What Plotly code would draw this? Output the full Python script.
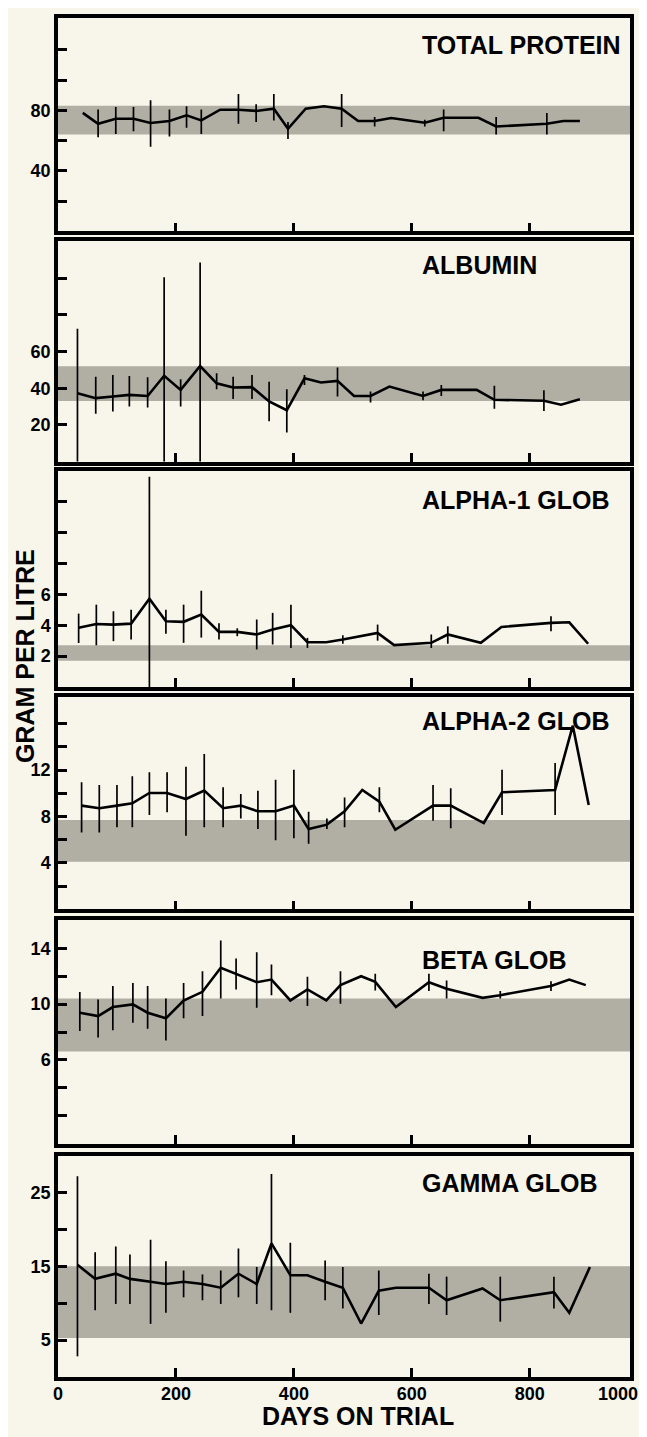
import plotly.graph_objects as go

# ---------------- data ----------------
PANEL_TITLES = ["TOTAL PROTEIN", "ALBUMIN", "ALPHA-1 GLOB", "ALPHA-2 GLOB", "BETA GLOB", "GAMMA GLOB"]

TP_DAYS = [42, 68, 98, 128, 157, 189, 218, 243, 275, 306, 336, 366, 390, 420, 451, 481, 509, 537, 565, 622, 654, 713, 743, 829, 857, 885]
TP_VAL = [78.3, 71.1, 74.4, 74.4, 71.6, 72.9, 76.7, 73.3, 80.4, 80.4, 79.6, 81.1, 67.8, 81.1, 82.7, 81.1, 72.9, 72.9, 74.9, 71.8, 75.1, 75.1, 69.3, 71.1, 72.9, 72.9]
TP_HI = [None, 80.5, 82.2, 82.2, 86.6, 80.5, 82.7, 80.5, None, 90.7, 84.0, 90.7, 72.2, None, None, 90.7, None, 75.5, None, 73.8, 80.5, None, 75.5, 78.2, None, None]
TP_LO = [None, 62.2, 64.4, 66.2, 56.0, 62.7, 68.4, 64.4, None, 71.1, 72.2, 73.3, 61.1, None, None, 69.0, None, 69.3, None, 69.3, 66.2, None, 64.0, 64.0, None, None]

ALB_DAYS = [33, 64, 93, 121, 152, 180, 208, 241, 269, 297, 329, 358, 388, 418, 446, 474, 502, 530, 562, 619, 650, 710, 740, 824, 853, 885]
ALB_VAL = [37.3, 34.6, 35.5, 36.4, 35.8, 46.8, 39.1, 52.1, 42.7, 40.4, 40.6, 32.8, 28.0, 45.4, 43.1, 44.0, 35.8, 35.8, 40.9, 35.8, 39.1, 39.1, 33.7, 33.2, 31.0, 34.0]
ALB_HI = [72.4, 46.3, 47.2, 46.7, 46.0, 100.4, 44.9, 108.5, 48.1, 46.3, 47.2, 43.6, 39.5, 47.2, None, 51.3, None, 38.2, None, 38.2, 41.8, None, 41.4, 38.9, None, None]
ALB_LO = [0.0, 26.1, 27.4, 30.1, 29.5, 0.0, 30.1, 0.0, 39.5, 34.1, 34.1, 22.0, 15.9, 41.8, None, 35.5, None, 32.3, None, 33.4, 35.8, None, 28.8, 27.6, None, None]

A1_DAYS = [35, 65, 94, 124, 155, 183, 213, 243, 273, 304, 337, 364, 395, 423, 455, 483, 542, 570, 633, 661, 717, 752, 836, 867, 899]
A1_VAL = [3.83, 4.08, 4.04, 4.10, 5.72, 4.26, 4.22, 4.69, 3.57, 3.57, 3.40, 3.72, 4.00, 2.90, 2.90, 3.07, 3.50, 2.71, 2.86, 3.40, 2.86, 3.89, 4.15, 4.19, 2.80]
A1_HI = [4.75, 5.33, 4.90, 5.00, 13.6, 5.00, 5.33, 6.23, 4.13, 3.80, 4.37, 4.80, 5.33, 3.18, None, 3.35, 4.04, None, 3.40, 3.93, None, None, 4.58, None, None]
A1_LO = [2.85, 2.70, 2.97, 3.07, 0.0, 3.44, 2.86, 3.20, 3.07, 3.29, 2.43, 2.75, 2.53, 2.53, None, 2.80, 3.00, None, 2.53, 2.80, None, None, 3.61, None, None]

A2_DAYS = [40, 70, 100, 126, 155, 185, 217, 248, 280, 310, 339, 369, 400, 425, 456, 486, 516, 545, 572, 636, 666, 722, 753, 843, 873, 900]
A2_VAL = [8.94, 8.72, 8.94, 9.14, 10.03, 10.03, 9.51, 10.23, 8.72, 8.94, 8.45, 8.45, 8.94, 6.92, 7.30, 8.45, 10.29, 9.28, 6.86, 8.94, 8.94, 7.44, 10.09, 10.29, 15.83, 9.00]
A2_HI = [10.95, 10.72, 10.72, 11.47, 11.81, 11.81, 12.30, 13.39, 10.52, 9.94, 10.23, 11.17, 12.04, 8.42, 7.84, 9.65, None, 10.52, None, 10.72, 10.43, None, 12.04, 12.61, None, None]
A2_LO = [6.63, 6.63, 7.07, 7.07, 8.13, 8.36, 6.35, 7.07, 7.07, 7.84, 6.92, 5.95, 6.12, 5.66, 6.92, 7.07, None, 8.36, None, 7.64, 6.98, None, 8.13, 8.13, None, None]

B_DAYS = [37, 68, 93, 127, 152, 183, 213, 245, 276, 302, 337, 362, 394, 423, 455, 479, 514, 538, 573, 629, 659, 720, 750, 836, 867, 895]
B_VAL = [9.38, 9.14, 9.79, 9.98, 9.38, 8.98, 10.26, 10.88, 12.60, 12.17, 11.57, 11.76, 10.26, 11.05, 10.26, 11.36, 12.00, 11.59, 9.79, 11.57, 11.10, 10.45, 10.64, 11.29, 11.76, 11.36]
B_HI = [10.86, 10.33, 11.29, 11.52, 11.29, 10.40, 11.52, 12.36, 14.55, 13.26, 13.71, 12.83, None, 11.95, None, 12.36, None, 12.17, None, 12.17, 11.69, None, 10.93, 11.64, None, None]
B_LO = [8.07, 7.60, 8.12, 8.67, 8.24, 7.40, 8.98, 9.14, 10.40, 11.05, 9.74, 10.64, None, 9.86, None, 10.02, None, 10.98, None, 10.93, 10.40, None, 10.40, 10.93, None, None]

G_DAYS = [33, 63, 98, 122, 157, 183, 213, 245, 276, 306, 337, 362, 394, 423, 453, 483, 514, 544, 573, 629, 659, 720, 750, 841, 867, 902]
G_VAL = [15.2, 13.3, 14.0, 13.3, 12.9, 12.6, 12.9, 12.6, 12.1, 14.0, 12.6, 18.1, 13.8, 13.8, 12.9, 12.1, 7.25, 11.7, 12.1, 12.1, 10.4, 12.0, 10.4, 11.5, 8.7, 14.9]
G_HI = [27.2, 16.9, 17.7, 16.6, 18.6, 15.7, 14.45, 13.9, 14.45, 17.4, 14.9, 27.5, 18.2, None, 15.8, 14.9, None, 14.45, None, 14.0, 13.6, None, 13.6, 13.6, None, None]
G_LO = [2.8, 9.05, 9.9, 9.9, 7.2, 8.7, 10.8, 10.4, 9.9, 10.8, 9.9, 9.05, 8.7, None, 10.4, 9.3, None, 8.4, None, 9.9, 8.4, None, 7.5, 9.3, None, None]

# normal ranges (shaded bands)
BAND_LOW = [64, 33, 1.7, 4.1, 6.6, 5.3]
BAND_HIGH = [83, 52, 2.7, 7.7, 10.4, 15.0]

# y tick values / labels
Y_TICKS = [
    [20, 40, 60, 80, 100, 120],
    [20, 40, 60, 80, 100],
    [2, 4, 6, 8, 10, 12],
    [2, 4, 6, 8, 10, 12, 14, 16],
    [2, 4, 6, 8, 10, 12, 14],
    [5, 10, 15, 20, 25],
]
Y_TICK_LABELS = [
    ["", "40", "", "80", "", ""],
    ["20", "40", "60", "", ""],
    ["2", "4", "6", "", "", ""],
    ["", "4", "", "8", "", "12", "", ""],
    ["", "", "6", "", "10", "", "14"],
    ["5", "", "15", "", "25"],
]
Y_MAX = [141, 120, 14, 18.3, 16, 30]

X_TICKS = [0, 200, 400, 600, 800]
X_TICK_LABELS = ["0", "200", "400", "600", "800", "1000"]
X_MAX = 970

X_TITLE = "DAYS ON TRIAL"
Y_TITLE = "GRAM PER LITRE"

SERIES = [
    (TP_DAYS, TP_VAL, TP_HI, TP_LO),
    (ALB_DAYS, ALB_VAL, ALB_HI, ALB_LO),
    (A1_DAYS, A1_VAL, A1_HI, A1_LO),
    (A2_DAYS, A2_VAL, A2_HI, A2_LO),
    (B_DAYS, B_VAL, B_HI, B_LO),
    (G_DAYS, G_VAL, G_HI, G_LO),
]

# ---------------- layout geometry (page pixels) ----------------
OFF = 8                       # default body margin of the html page
PAGE_W, PAGE_H = 647, 1437
W, H = PAGE_W - OFF, PAGE_H - OFF
LEFT_PX, RIGHT_PX, TOP_PX, BOTTOM_PX = 58, 630, 14, 1377
ML, MR, MT, MB = LEFT_PX - OFF, PAGE_W - RIGHT_PX, TOP_PX - OFF, PAGE_H - BOTTOM_PX
PANEL_PX = [(14, 228), (238, 459), (468, 685), (695, 908), (919, 1143), (1155, 1377)]
TITLE_Y_PX = [41, 262, 497, 719, 959, 1182]
PH = BOTTOM_PX - TOP_PX
PW = RIGHT_PX - LEFT_PX


def py(px):
    return (BOTTOM_PX - px) / PH


def pxx(px):
    return (px - LEFT_PX) / PW


BG = "#f8f6ea"
BAND_COLOR = "#b1aea4"
FONT = "Liberation Sans, Arial, Helvetica, sans-serif"
TICK_SIZE = 18
TITLE_SIZE = 25


def bold(lst):
    return [f"<b>{t}</b>" if t else "" for t in lst]


fig = go.Figure()
layout = dict(
    width=W, height=H,
    margin=dict(l=ML, r=MR, t=MT, b=MB),
    paper_bgcolor=BG, plot_bgcolor=BG,
    showlegend=False,
    font=dict(family=FONT, color="black"),
    shapes=[], annotations=[],
)

for i, (days, val, hi, lo) in enumerate(SERIES):
    n = i + 1
    xa = "x" if n == 1 else f"x{n}"
    ya = "y" if n == 1 else f"y{n}"
    plus = [(h - v) if h is not None else 0 for h, v in zip(hi, val)]
    minus = [(v - l) if l is not None else 0 for l, v in zip(lo, val)]
    fig.add_trace(go.Scatter(
        x=days, y=val, xaxis=xa, yaxis=ya, mode="lines",
        line=dict(color="black", width=2.6),
        error_y=dict(type="data", symmetric=False, array=plus, arrayminus=minus,
                     color="black", thickness=1.7, width=0),
        hoverinfo="skip",
    ))
    top, bot = PANEL_PX[i]
    axis_common = dict(showline=True, linewidth=3.5, linecolor="black", mirror=True,
                       ticks="inside", ticklen=9, tickwidth=2.6, tickcolor="black",
                       showgrid=False, zeroline=False, fixedrange=True)
    xdict = dict(axis_common, domain=[0, 1], anchor=ya,
                 range=[0, X_MAX], tickvals=[200, 400, 600, 800], showticklabels=False)
    if n == 6:
        xdict.update(tickvals=X_TICKS, ticktext=bold(X_TICK_LABELS[:len(X_TICKS)]),
                     showticklabels=True, ticklabelstandoff=-2,
                     tickfont=dict(size=TICK_SIZE, family=FONT, color="black"))
    ydict = dict(axis_common, domain=[py(bot), py(top)], anchor=xa,
                 range=[0, Y_MAX[i]], tickvals=Y_TICKS[i], ticktext=bold(Y_TICK_LABELS[i]),
                 tickfont=dict(size=TICK_SIZE, family=FONT, color="black"))
    layout["xaxis" if n == 1 else f"xaxis{n}"] = xdict
    layout["yaxis" if n == 1 else f"yaxis{n}"] = ydict
    layout["shapes"].append(dict(
        type="rect", xref=f"{xa} domain", yref=ya, x0=0, x1=1,
        y0=BAND_LOW[i], y1=BAND_HIGH[i], fillcolor=BAND_COLOR, line=dict(width=0), layer="below"))
    layout["annotations"].append(dict(
        text=f"<b>{PANEL_TITLES[i]}</b>", xref="paper", yref="paper",
        x=pxx(420), y=py(TITLE_Y_PX[i]), xanchor="left", yanchor="middle",
        showarrow=False, font=dict(size=TITLE_SIZE, family=FONT, color="black")))

# last x tick label sits at the right edge, as in the reference
layout["annotations"].append(dict(
    text=f"<b>{X_TICK_LABELS[-1]}</b>", xref="paper", yref="paper", x=pxx(640), y=py(1394),
    xanchor="right", yanchor="middle", showarrow=False,
    font=dict(size=TICK_SIZE, family=FONT, color="black")))
layout["annotations"].append(dict(
    text=f"<b>{X_TITLE}</b>", xref="paper", yref="paper", x=pxx(358), y=py(1416),
    xanchor="center", yanchor="middle", showarrow=False,
    font=dict(size=TITLE_SIZE, family=FONT, color="black")))
layout["annotations"].append(dict(
    text=f"<b>{Y_TITLE}</b>", xref="paper", yref="paper", x=pxx(25), y=py(654),
    xanchor="center", yanchor="middle", textangle=-90, showarrow=False,
    font=dict(size=TITLE_SIZE, family=FONT, color="black")))

fig.update_layout(**layout)
fig.write_html("out.html")
